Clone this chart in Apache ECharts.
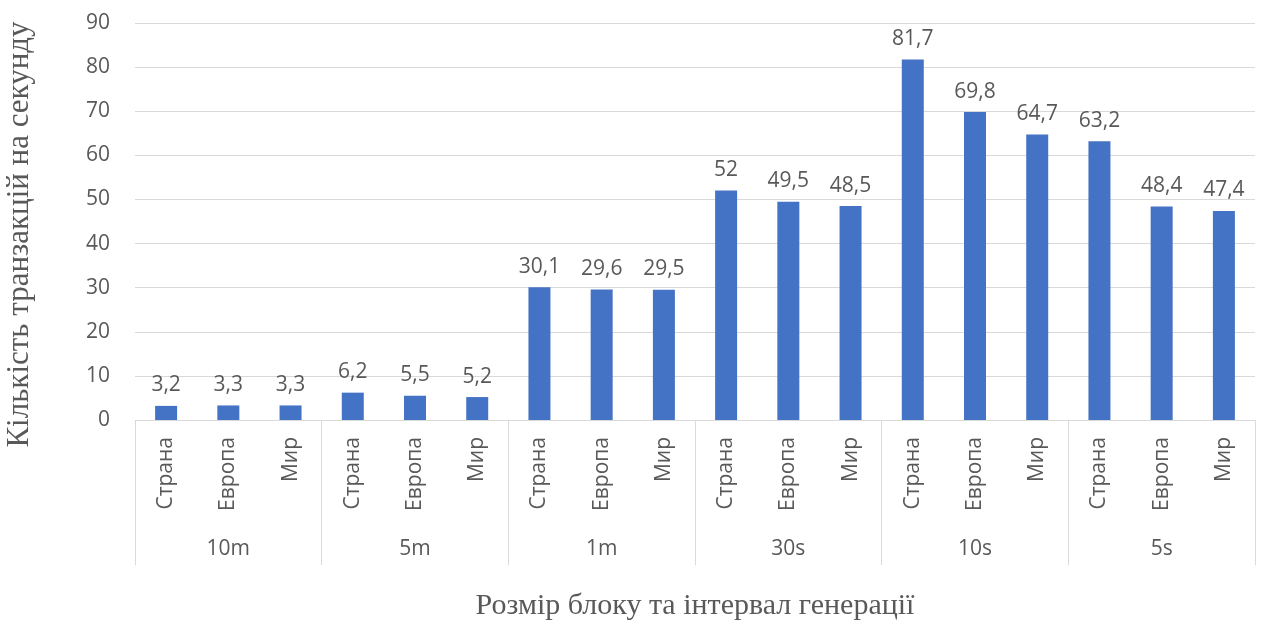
<!DOCTYPE html>
<html>
<head>
<meta charset="utf-8">
<script src="https://cdn.jsdelivr.net/npm/echarts@6/dist/echarts.min.js"></script>
<style>
  html, body { margin: 0; padding: 0; background: #fff; }
  #chart { width: 1265px; height: 626px; }
</style>
</head>
<body>
<div id="chart"></div>
<script>
// Inner categories (region) repeated for each block-interval group
const regions = ['Страна', 'Европа', 'Мир'];
const groups = ['10m', '5m', '1m', '30s', '10s', '5s'];
const categories = groups.flatMap(() => regions);
// Transactions per second for each bar
const values = [3.2, 3.3, 3.3, 6.2, 5.5, 5.2, 30.1, 29.6, 29.5, 52, 49.5, 48.5, 81.7, 69.8, 64.7, 63.2, 48.4, 47.4];
const yTicks = { min: 0, max: 90, interval: 10 };

const textColor = '#595959';
const sansFont = '"Open Sans", "Noto Sans", sans-serif';
const serifFont = '"Liberation Serif", "DejaVu Serif", serif';

const chart = echarts.init(document.getElementById('chart'));
chart.setOption({
  animation: false,
  grid: { left: 135, right: 10, top: 23, bottom: 206, outerBoundsMode: 'none', containLabel: false },
  xAxis: [
    {
      type: 'category',
      data: categories,
      position: 'bottom',
      axisLine: { show: true, lineStyle: { color: '#d9d9d9', width: 1 } },
      axisTick: { show: false },
      axisLabel: {
        interval: 0,
        rotate: 90,
        margin: 17,
        color: textColor,
        fontFamily: sansFont,
        fontSize: 21
      }
    },
    {
      type: 'category',
      data: groups,
      position: 'bottom',
      name: 'Розмір блоку та інтервал генерації',
      nameLocation: 'middle',
      nameGap: 171,
      nameTextStyle: { color: textColor, fontFamily: serifFont, fontSize: 30 },
      axisLine: { show: false },
      axisTick: { show: true, length: 145, interval: 0, lineStyle: { color: '#d9d9d9' } },
      axisLabel: {
        interval: 0,
        margin: 119,
        color: textColor,
        fontFamily: sansFont,
        fontSize: 21
      }
    }
  ],
  yAxis: {
    type: 'value',
    min: yTicks.min,
    max: yTicks.max,
    interval: yTicks.interval,
    name: 'Кількість транзакцій на секунду',
    nameLocation: 'middle',
    nameGap: 100,
    nameTextStyle: { color: textColor, fontFamily: serifFont, fontSize: 31, padding: [0, 26, 0, 0] },
    axisLine: { show: false },
    axisTick: { show: false },
    axisLabel: { color: textColor, fontFamily: sansFont, fontSize: 21, margin: 25 },
    splitLine: { lineStyle: { color: '#d9d9d9', width: 1 } }
  },
  series: [{
    type: 'bar',
    xAxisIndex: 0,
    data: values,
    barWidth: 22,
    itemStyle: { color: '#4472C4' },
    label: {
      show: true,
      position: 'top',
      distance: 10,
      color: textColor,
      fontFamily: sansFont,
      fontSize: 21,
      formatter: p => String(p.value).replace('.', ',')
    }
  }]
});
</script>
</body>
</html>
